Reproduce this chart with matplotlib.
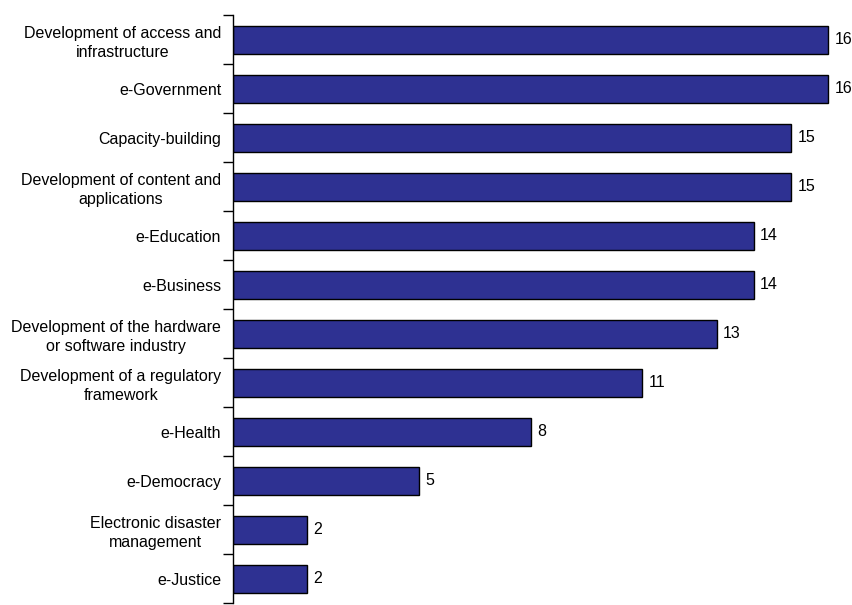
import numpy as np
import matplotlib.pyplot as plt

categories = [
    "Development of access and\ninfrastructure",
    "e-Government",
    "Capacity-building",
    "Development of content and\napplications",
    "e-Education",
    "e-Business",
    "Development of the hardware\nor software industry",
    "Development of a regulatory\nframework",
    "e-Health",
    "e-Democracy",
    "Electronic disaster\nmanagement",
    "e-Justice",
]
counts = [16, 16, 15, 15, 14, 14, 13, 11, 8, 5, 2, 2]

plt.rcParams['font.family'] = ['Liberation Sans', 'DejaVu Sans']

fig = plt.figure(figsize=(8.52, 6.05), dpi=100)
ax = fig.add_axes([0.2735, 0.003, 0.7265, 0.972])

y = np.arange(len(categories))
ax.barh(y, counts, height=0.57, color='#2E3192', edgecolor='black', linewidth=1.0)
for yi, v in zip(y, counts):
    ax.text(v + 0.17, yi, str(v), va='center', ha='left', fontsize=11.5)

ax.set_ylim(len(categories) - 0.5, -0.5)
ax.set_xlim(0, 16.64)
ax.set_yticks(y)
ax.set_yticklabels(categories, fontsize=11.5)
ax.tick_params(axis='y', which='major', length=0, pad=8.5)
for lbl in ax.get_yticklabels():
    lbl.set_multialignment('center')
    lbl.set_linespacing(1.3)
ax.set_yticks(np.arange(-0.5, len(categories)), minor=True)
ax.tick_params(axis='y', which='minor', length=7, width=1)
ax.set_xticks([])
for s in ['top', 'right', 'bottom']:
    ax.spines[s].set_visible(False)
ax.spines['left'].set_linewidth(1.0)

fig.savefig('out.png', dpi=100)
